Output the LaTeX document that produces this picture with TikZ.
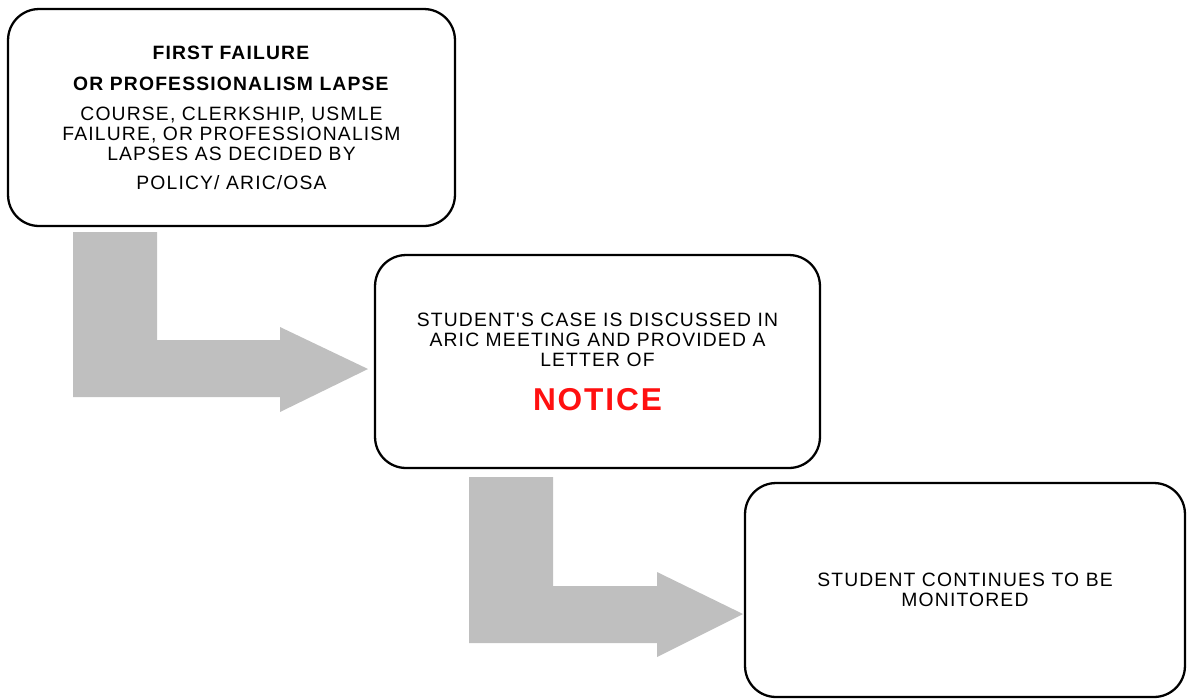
\documentclass[tikz,border=0pt]{standalone}
\usepackage{fontspec}
\usepackage{tikz}
\usetikzlibrary{calc}
\newfontfamily\boxfont{Liberation Sans}[LetterSpace=6]
\definecolor{arrowgray}{HTML}{BFBFBF}
\definecolor{noticered}{HTML}{FF1010}

\begin{document}
\begin{tikzpicture}[x=0.02cm,y=-0.02cm,%
         stagebox/.style={draw=black,line width=1.3pt,rounded corners=0.62cm,%
         align=center,inner sep=0pt,font=\boxfont\fontsize{11}{11.4}\selectfont},%
         bentarrow/.style={fill=arrowgray,draw=none}]
         \useasboundingbox (0,0) rectangle (1188,698);
         % the three stages
         \node[stagebox,minimum width=8.94cm,minimum height=4.34cm] (First)
         at (231.5,117.5) {\textbf{FIRST FAILURE}\\[0.22cm]
         \textbf{OR PROFESSIONALISM LAPSE}\\[0.2cm]
         COURSE, CLERKSHIP, USMLE\\
         FAILURE, OR PROFESSIONALISM\\
         LAPSES AS DECIDED BY\\[0.18cm]
         POLICY/ ARIC/OSA};
         \node[stagebox,minimum width=8.9cm,minimum height=4.26cm] (Notice)
         at (597.5,361.5) {STUDENT'S CASE IS DISCUSSED IN\\
         ARIC MEETING AND PROVIDED A\\
         LETTER OF\\[0.4cm]
         {\color{noticered}\bfseries\fontsize{18}{18}\selectfont NOTICE}};
         \node[stagebox,minimum width=8.8cm,minimum height=4.28cm] (Monitor)
         at (965,590) {STUDENT CONTINUES TO BE\\ MONITORED};
         % bent block arrows
         \fill[bentarrow] (73,232) -- (157,232) -- (157,340) -- (280,340)%
         -- (280,327) -- (368,369) -- (280,412) -- (280,397) -- (73,397) -- cycle;
         \fill[bentarrow] (469,477) -- (553,477) -- (553,586) -- (657,586)%
         -- (657,572) -- (743,614) -- (657,657) -- (657,643) -- (469,643) -- cycle;
\end{tikzpicture}
\end{document}
